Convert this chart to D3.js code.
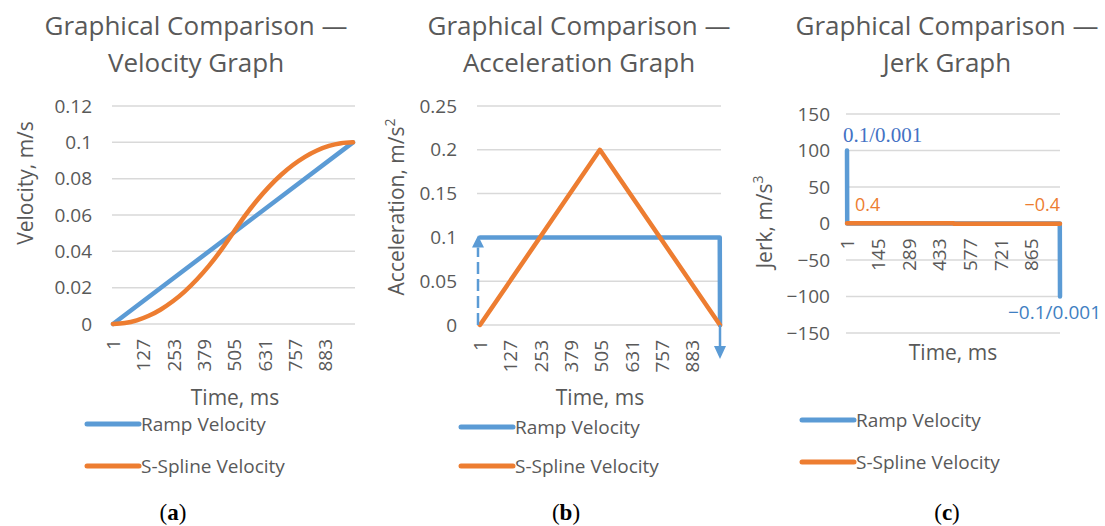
<!DOCTYPE html>
<html>
<head>
<meta charset="utf-8">
<script src="https://cdn.jsdelivr.net/npm/d3@7"></script>
<style>
body { margin: 0; background: #fff; }
text { font-family: "Open Sans", sans-serif; fill: #595959; }
</style>
</head>
<body>
<svg id="chart" width="1105" height="526"></svg>
<script>

// tick labels

const velTicksY = [0, 0.02, 0.04, 0.06, 0.08, 0.1, 0.12];
const accTicksY = [0, 0.05, 0.1, 0.15, 0.2, 0.25];
const jerkTicksY = [-150, -100, -50, 0, 50, 100, 150];
const timeTicks = [1, 127, 253, 379, 505, 631, 757, 883];
const jerkTimeTicks = [1, 145, 289, 433, 577, 721, 865];

// series

const seriesNames = ["Ramp Velocity", "S-Spline Velocity"];

const rampVelTime = [1, 1000];
const rampVel = [0, 0.1];
const splineVelTime = [1, 50, 100, 150, 200, 250, 300, 350, 400, 450, 500, 550, 600, 650, 700, 750, 800, 850, 900, 950, 1000];
const splineVel = [0, 0.0005, 0.002, 0.0045, 0.008, 0.0125, 0.018, 0.0245, 0.032, 0.0405, 0.05, 0.0595, 0.068, 0.0755, 0.082, 0.0875, 0.092, 0.0955, 0.098, 0.0995, 0.1];

const rampAccTime = [1, 999, 1000];
const rampAcc = [0.1, 0.1, 0];
const splineAccTime = [1, 500, 1000];
const splineAcc = [0, 0.2, 0];

const rampJerkTime = [1, 2, 999, 1000];
const rampJerk = [100, 0, 0, -100];
const splineJerkTime = [1, 500, 501, 1000];
const splineJerk = [0.4, 0.4, -0.4, -0.4];

// styles

const blue = "#5B9BD5";
const orange = "#ED7D31";
const gridColor = "#d9d9d9";

const svg = d3.select("#chart");

const fmt = d => d < 0 ? "\u2212" + Math.abs(d) : String(d);

const panels = [
  {
    title: ["Graphical Comparison \u2014", "Velocity Graph"], titleX: 196,
    yTitle: "Velocity, m/s", sup: null, yTitleX: 26, yTitleY: 183,
    yDomain: [0, 0.12], yTicks: velTicksY, xTicks: timeTicks,
    x0: 113, x1: 353, yBottom: 324, yTop: 106, gx0: 112, gx1: 355, labelX: 92,
    xTitleX: 235, xTitleY: 405, legendX: 87, legendY: [424, 466],
    tag: "a", tagX: 173,
    series: [[rampVelTime, rampVel], [splineVelTime, splineVel]],
    curve: d3.curveMonotoneX
  },
  {
    title: ["Graphical Comparison \u2014", "Acceleration Graph"], titleX: 579,
    yTitle: "Acceleration, m/s", sup: "2", yTitleX: 397, yTitleY: 207,
    yDomain: [0, 0.25], yTicks: accTicksY, xTicks: timeTicks,
    x0: 480, x1: 720, yBottom: 325, yTop: 106, gx0: 477, gx1: 721, labelX: 457,
    xTitleX: 600, xTitleY: 405, legendX: 461, legendY: [427, 466],
    tag: "b", tagX: 566,
    series: [[rampAccTime, rampAcc], [splineAccTime, splineAcc]],
    curve: d3.curveLinear
  },
  {
    title: ["Graphical Comparison \u2014", "Jerk Graph"], titleX: 947,
    yTitle: "Jerk, m/s", sup: "3", yTitleX: 765, yTitleY: 222,
    yDomain: [-150, 150], yTicks: jerkTicksY, xTicks: jerkTimeTicks,
    x0: 847, x1: 1060, yBottom: 333, yTop: 114, gx0: 846, gx1: 1060, labelX: 830,
    xTitleX: 953, xTitleY: 360, legendX: 802, legendY: [420, 462],
    tag: "c", tagX: 947,
    series: [[rampJerkTime, rampJerk], [splineJerkTime, splineJerk]],
    curve: d3.curveLinear
  }
];

const scales = panels.map(drawPanel);

function drawPanel(p) {
  const g = svg.append("g");

  const x = d3.scaleLinear().domain([1, 1000]).range([p.x0, p.x1]);
  const y = d3.scaleLinear().domain(p.yDomain).range([p.yBottom, p.yTop]);

  // title
  const t = g.append("text")
    .attr("text-anchor", "middle")
    .attr("font-size", 26);
  t.append("tspan").attr("x", p.titleX).attr("y", 35).text(p.title[0]);
  t.append("tspan").attr("x", p.titleX).attr("y", 72).text(p.title[1]);

  // gridlines
  g.append("g")
    .selectAll("line")
    .data(p.yTicks)
    .join("line")
    .attr("x1", p.gx0)
    .attr("x2", p.gx1)
    .attr("y1", d => y(d))
    .attr("y2", d => y(d))
    .attr("stroke", gridColor)
    .attr("stroke-width", 1.5);

  // y axis labels
  const yAxis = d3.axisLeft(y).tickValues(p.yTicks).tickSize(0).tickPadding(0).tickFormat(fmt);
  const yg = g.append("g")
    .attr("transform", `translate(${p.labelX},0)`)
    .call(yAxis)
    .attr("font-size", 19);
  yg.select(".domain").remove();

  // x axis labels (rotated)
  const xAxis = d3.axisBottom(x).tickValues(p.xTicks).tickSize(0).tickFormat(fmt);
  const xg = g.append("g")
    .attr("transform", `translate(0,${y(0)})`)
    .call(xAxis)
    .attr("font-size", 19);
  xg.select(".domain").remove();
  xg.selectAll("text")
    .attr("transform", "rotate(-90)")
    .attr("text-anchor", "end")
    .attr("x", -15)
    .attr("y", 0)
    .attr("dy", "0.35em");

  // axis titles
  const yt = g.append("text")
    .attr("transform", `translate(${p.yTitleX},${p.yTitleY}) rotate(-90)`)
    .attr("text-anchor", "middle")
    .attr("dy", "0.35em")
    .attr("font-size", 21)
    .text(p.yTitle);
  if (p.sup) {
    yt.append("tspan")
      .attr("baseline-shift", "super")
      .attr("font-size", 14)
      .text(p.sup);
  }

  g.append("text")
    .attr("x", p.xTitleX)
    .attr("y", p.xTitleY)
    .attr("text-anchor", "middle")
    .attr("font-size", 21)
    .text("Time, ms");

  // lines
  const lineGen = d3.line()
    .x(d => x(d[0]))
    .y(d => y(d[1]))
    .curve(p.curve);

  g.selectAll(".series")
    .data(p.series.map(s => d3.zip(s[0], s[1])))
    .join("path")
    .attr("class", "series")
    .attr("fill", "none")
    .attr("stroke", (d, i) => i === 0 ? blue : orange)
    .attr("stroke-width", 4.5)
    .attr("stroke-linejoin", "round")
    .attr("stroke-linecap", "round")
    .attr("d", lineGen);

  // legend
  const lg = g.selectAll(".legend")
    .data(seriesNames)
    .join("g")
    .attr("class", "legend")
    .attr("transform", (d, i) => `translate(${p.legendX},${p.legendY[i]})`);
  lg.append("line")
    .attr("x1", 0).attr("x2", 52)
    .attr("stroke", (d, i) => i === 0 ? blue : orange)
    .attr("stroke-width", 5)
    .attr("stroke-linecap", "round");
  lg.append("text")
    .attr("x", 54)
    .attr("dy", "0.35em")
    .attr("font-size", 19)
    .text(d => d);

  // panel tag
  const tag = g.append("text")
    .attr("x", p.tagX)
    .attr("y", 520)
    .attr("text-anchor", "middle")
    .attr("font-size", 23)
    .style("font-family", "'Liberation Serif', serif")
    .style("fill", "#000");
  tag.append("tspan").text("(");
  tag.append("tspan").attr("font-weight", "bold").text(p.tag);
  tag.append("tspan").text(")");

  return {g, x, y};
}

// acceleration arrows
{
  const {g, x, y} = scales[1];
  g.append("line")
    .attr("x1", x(1) - 2).attr("x2", x(1) - 2)
    .attr("y1", y(0)).attr("y2", y(0.1) + 10)
    .attr("stroke", blue)
    .attr("stroke-width", 2.5)
    .attr("stroke-dasharray", "12,5");
  g.append("path")
    .attr("d", `M${x(1) - 2},${y(0.1) - 2} l6,12 l-12,0 z`)
    .attr("fill", blue);

  g.append("line")
    .attr("x1", x(1000)).attr("x2", x(1000))
    .attr("y1", y(0)).attr("y2", y(0) + 22)
    .attr("stroke", blue)
    .attr("stroke-width", 2.5);
  g.append("path")
    .attr("d", `M${x(1000)},${y(0) + 34} l6,-13 l-12,0 z`)
    .attr("fill", blue);
}

// jerk value labels
{
  const {g, x, y} = scales[2];
  g.append("text")
    .attr("x", x(1) - 4).attr("y", y(100) - 9)
    .attr("font-size", 21)
    .style("font-family", "'Liberation Serif', serif")
    .style("fill", "#4472C4")
    .text("0.1/0.001");
  g.append("text")
    .attr("x", x(1) + 8).attr("y", y(0) - 13)
    .attr("font-size", 18)
    .style("fill", orange)
    .text("0.4");
  g.append("text")
    .attr("x", x(1000)).attr("y", y(0) - 13)
    .attr("text-anchor", "end")
    .attr("font-size", 18)
    .style("fill", orange)
    .text("\u22120.4");
  g.append("text")
    .attr("x", x(1000) - 52).attr("y", y(-100) + 22)
    .attr("font-size", 19)
    .style("fill", "#3F7FC2")
    .text("\u22120.1/0.001");
}

</script>
</body>
</html>
